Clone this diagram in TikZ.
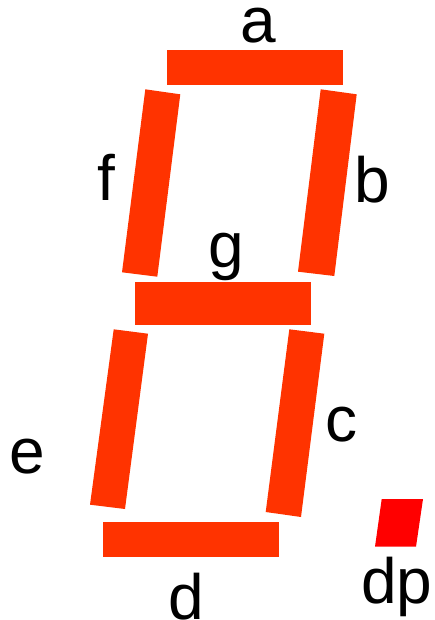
\documentclass[tikz,border=0pt]{standalone}
\usepackage{fontspec}
\setmainfont{Liberation Sans}
\definecolor{seg}{RGB}{255,51,0}
\definecolor{dpred}{RGB}{255,0,0}
\begin{document}
\begin{tikzpicture}[x=1pt,y=-1pt,
  segment/.style={fill=seg},
  dot/.style={fill=dpred},
  lbl/.style={anchor=base,inner sep=0pt,font=\fontsize{64}{64}\selectfont}]
\useasboundingbox (0,0) rectangle (434,620);
% segments
\fill[segment] (167,50) rectangle (343,85);                                   % a
\fill[segment] (320.7,89.3) -- (356.7,94.3) -- (334.3,276) -- (298,271.7) -- cycle; % b
\fill[segment] (289.3,329.3) -- (324.3,333.7) -- (301,517) -- (265.7,512) -- cycle; % c
\fill[segment] (103,522) rectangle (279,557);                                 % d
\fill[segment] (113.7,329.3) -- (148,333.7) -- (125,509) -- (90,504.7) -- cycle;    % e
\fill[segment] (145.3,89.3) -- (180.3,94.3) -- (157.3,276.7) -- (122,272.3) -- cycle; % f
\fill[segment] (135,282) rectangle (311,325);                                 % g
\fill[dot] (381.7,499) -- (423,499) -- (416,546.7) -- (375,546.7) -- cycle;   % dp
% labels
\node[lbl] (la) at (258.3,42.5) {a};
\node[lbl] (lb) at (372.5,203) {b};
\node[lbl] (lc) at (341,441.5) {c};
\node[lbl] (ld) at (186.7,619) {d};
\node[lbl] (le) at (27.5,473) {e};
\node[lbl] (lf) at (106.5,200.5) {f};
\node[lbl] (lg) at (226.7,267) {g};
\node[lbl] (ldp) at (396.7,603.3) {dp};
\end{tikzpicture}
\end{document}
